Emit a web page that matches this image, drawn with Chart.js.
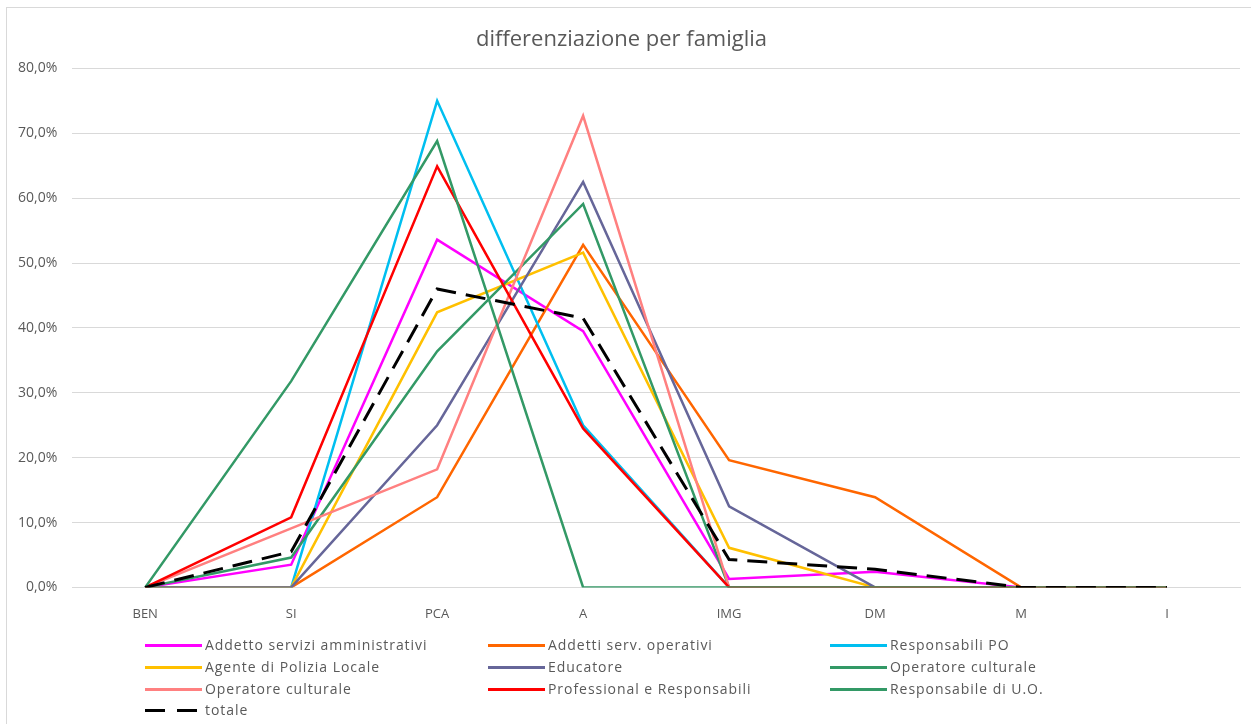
<!DOCTYPE html>
<html>
<head>
<meta charset="utf-8">
<script src="https://cdn.jsdelivr.net/npm/chart.js@4.4.0/dist/chart.umd.min.js"></script>
<style>
  body { margin: 0; background: #fff; overflow: hidden; }
  #wrap { position: relative; width: 1251px; height: 724px; }
  #frame { position: absolute; left: 6px; top: 7px; width: 1300px; height: 800px; border: 1px solid #d9d9d9; box-sizing: border-box; }
  #myChart { position: absolute; left: 0; top: 0; }
  #legend { position: absolute; left: 0; top: 0; width: 1251px; height: 724px; pointer-events: none;
            font-family: "Open Sans", sans-serif; font-size: 14px; color: #595959; letter-spacing: 0.95px; }
  .item { position: absolute; height: 20px; line-height: 20px; white-space: nowrap; }
  .swatch { position: absolute; left: 0; top: 8px; width: 57px; height: 3px; }
  .lbl { position: absolute; left: 60px; top: -1px; }
</style>
</head>
<body>
<div id="wrap">
  <div id="frame"></div>
  <canvas id="myChart" width="1251" height="724"></canvas>
  <div id="legend"></div>
</div>
<script>
const categories = ['BEN', 'SI', 'PCA', 'A', 'IMG', 'DM', 'M', 'I'];

// percent values per famiglia
const addettoAmm = [0, 3.5, 53.6, 39.5, 1.3, 2.4, 0, 0];
const addettiOp = [0, 0, 13.9, 52.8, 19.6, 13.9, 0, 0];
const respPO = [0, 0, 75.0, 25.0, 0, 0, 0, 0];
const agentePL = [0, 0, 42.4, 51.6, 6.1, 0, 0, 0];
const educatore = [0, 0, 25.0, 62.5, 12.5, 0, 0, 0];
const operCult1 = [0, 4.6, 36.4, 59.1, 0, 0, 0, 0];
const operCult2 = [0, 9.1, 18.2, 72.7, 0, 0, 0, 0];
const professional = [0, 10.8, 64.9, 24.5, 0, 0, 0, 0];
const respUO = [0, 31.8, 68.8, 0, 0, 0, 0, 0];
const totale = [0, 5.5, 46.0, 41.5, 4.3, 2.8, 0, 0];

const seriesNames = ['Addetto servizi amministrativi', 'Addetti serv. operativi', 'Responsabili PO',
    'Agente di Polizia Locale', 'Educatore', 'Operatore culturale',
    'Operatore culturale', 'Professional e Responsabili', 'Responsabile di U.O.', 'totale'];
const seriesData = [addettoAmm, addettiOp, respPO, agentePL, educatore, operCult1, operCult2, professional, respUO, totale];
const seriesColors = ['#ff00ff', '#ff6600', '#00bff0', '#ffc000', '#666699', '#339966', '#ff8080', '#ff0000', '#339966', '#000000'];

const textColor = '#595959';
const fontFam = '"Open Sans", sans-serif';

var datasets = [];
for (let i = 0; i < seriesNames.length; i++) {
    let isTot = seriesNames[i] == 'totale';
    datasets.push({
        label: seriesNames[i],
        data: seriesData[i],
        borderColor: seriesColors[i],
        backgroundColor: seriesColors[i],
        borderWidth: isTot ? 3 : 2.5,
        borderDash: isTot ? [20, 10] : [],
        pointRadius: 0,
        fill: false,
        tension: 0,
        order: seriesNames.length - i, // last series on top, like the original
    });
}

var mychart = new Chart("myChart", {
    type: "line",
    data: {
        labels: categories,
        datasets: datasets
    },
    options: {
        animation: false,
        responsive: false,
        layout: {
            padding: { left: 3, right: 11, top: 8, bottom: 83 }
        },
        plugins: {
            legend: { display: false },
            tooltip: { enabled: false },
            title: {
                display: true,
                text: 'differenziazione per famiglia',
                color: textColor,
                font: { family: fontFam, size: 22, weight: 'normal' },
                padding: { top: 19, bottom: 15 }
            }
        },
        scales: {
            x: {
                offset: true,
                grid: { display: false, drawTicks: false },
                border: { display: true, color: '#d9d9d9', width: 1 },
                ticks: { color: textColor, font: { family: fontFam, size: 13 }, padding: 19 }
            },
            y: {
                min: 0,
                max: 80,
                grid: { color: '#d9d9d9', drawTicks: false },
                border: { display: false },
                ticks: {
                    stepSize: 10,
                    color: textColor,
                    font: { family: fontFam, size: 14 },
                    padding: 15,
                    callback: function (v) { return v.toFixed(1).replace('.', ',') + '%'; }
                }
            }
        }
    }
});

// legend, three columns like the original
var legend = document.getElementById('legend');
const colX = [145, 488, 830];
const rowY = [636, 658, 680, 701];
for (let i = 0; i < seriesNames.length; i++) {
    let item = document.createElement('div');
    item.className = 'item';
    item.style.left = colX[i % 3] + 'px';
    item.style.top = rowY[Math.floor(i / 3)] + 'px';
    let sw = document.createElement('span');
    sw.className = 'swatch';
    if (seriesNames[i] == 'totale') {
        sw.style.width = '52px';
        sw.style.background = 'repeating-linear-gradient(90deg, #000 0 20px, transparent 20px 32px)';
    } else {
        sw.style.background = seriesColors[i];
    }
    let lb = document.createElement('span');
    lb.className = 'lbl';
    lb.textContent = seriesNames[i];
    item.appendChild(sw);
    item.appendChild(lb);
    legend.appendChild(item);
}
</script>
</body>
</html>
